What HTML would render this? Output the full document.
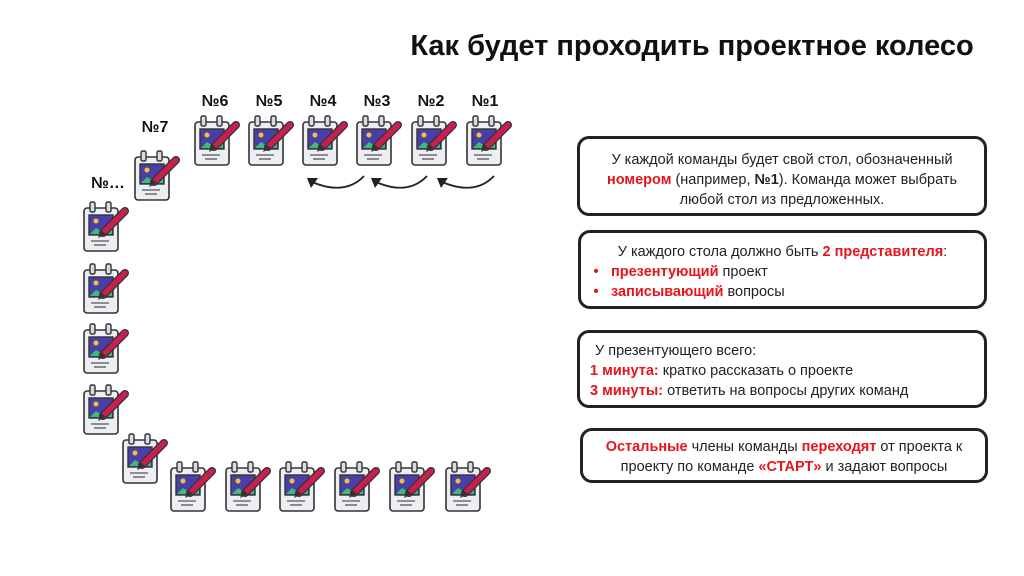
<!DOCTYPE html>
<html><head><meta charset="utf-8"><style>
body{margin:0;width:1024px;height:576px;background:#fff;position:relative;overflow:hidden;font-family:"Liberation Sans",sans-serif}
.t{position:absolute;left:392px;width:600px;top:30px;text-align:center;font-weight:bold;font-size:29px;color:#111}
.l{position:absolute;font-weight:bold;font-size:16px;color:#111;transform:translateX(-50%)}
.b{position:absolute;border:3px solid #222;border-radius:12px;box-sizing:border-box;font-size:14.5px;color:#222;line-height:20px;white-space:nowrap}
.r{color:#e8141b;font-weight:bold}
</style></head><body>
<div class="t">Как будет проходить проектное колесо</div>
<svg width="0" height="0" style="position:absolute"><defs>
<g id="i">
<rect x="3" y="7" width="34" height="43" rx="3" fill="#eceef4" stroke="#333" stroke-width="1.6"/>
<rect x="9" y="1" width="5" height="10" rx="1.5" fill="#d8dce4" stroke="#333" stroke-width="1.4"/>
<rect x="25" y="1" width="5" height="10" rx="1.5" fill="#d8dce4" stroke="#333" stroke-width="1.4"/>
<rect x="8" y="14" width="24" height="20" fill="#4a3fa8" stroke="#333" stroke-width="1.4"/>
<circle cx="15" cy="20" r="2.5" fill="#f4c430"/>
<path d="M9 33 L15 27 L20 30 L26 25 L31 29 L31 33Z" fill="#3dbb7a"/>
<line x1="10" y1="40" x2="28" y2="40" stroke="#555" stroke-width="1.3"/>
<line x1="13" y1="44" x2="25" y2="44" stroke="#555" stroke-width="1.3"/>
<line x1="22" y1="32" x2="44" y2="10" stroke="#333" stroke-width="8" stroke-linecap="round"/>
<line x1="22" y1="32" x2="44" y2="10" stroke="#c8204e" stroke-width="5.5" stroke-linecap="round"/>
<path d="M17 37 L20 29 L25 33Z" fill="#333"/>
</g></defs></svg>
<div class="l" style="left:215px;top:93px">№6</div>
<div class="l" style="left:269px;top:93px">№5</div>
<div class="l" style="left:323px;top:93px">№4</div>
<div class="l" style="left:377px;top:93px">№3</div>
<div class="l" style="left:431px;top:93px">№2</div>
<div class="l" style="left:485px;top:93px">№1</div>
<div class="l" style="left:155px;top:119px">№7</div>
<div class="l" style="left:108px;top:175px">№…</div>
<svg width="1024" height="576" style="position:absolute;left:0;top:0">
<use href="#i" x="192" y="115"/><use href="#i" x="246" y="115"/><use href="#i" x="300" y="115"/>
<use href="#i" x="354" y="115"/><use href="#i" x="409" y="115"/><use href="#i" x="464" y="115"/>
<use href="#i" x="132" y="150"/><use href="#i" x="81" y="201"/>
<use href="#i" x="81" y="263"/><use href="#i" x="81" y="323"/><use href="#i" x="81" y="384"/>
<use href="#i" x="120" y="433"/>
<use href="#i" x="168" y="461"/><use href="#i" x="223" y="461"/><use href="#i" x="277" y="461"/>
<use href="#i" x="332" y="461"/><use href="#i" x="387" y="461"/><use href="#i" x="443" y="461"/>
<g fill="none" stroke="#222" stroke-width="1.8">
<path d="M364 176 Q345 196 312 182"/><path d="M427 176 Q408 196 376 182"/><path d="M494 176 Q475 196 442 182"/>
</g>
<g fill="#222"><path d="M307 178 L318 178 L311 188Z"/><path d="M371 178 L382 178 L375 188Z"/><path d="M437 178 L448 178 L441 188Z"/></g>
</svg>
<div class="b" style="left:577px;top:136px;width:410px;height:80px;text-align:center;padding-top:11px">У каждой команды будет свой стол, обозначенный<br><span class="r">номером</span> (например, <b>№1</b>). Команда может выбрать<br>любой стол из предложенных.</div>
<div class="b" style="left:578px;top:230px;width:409px;height:79px;padding-top:9px">
<div style="text-align:center">У каждого стола должно быть <span class="r">2 представителя</span>:</div>
<div><span class="r" style="display:inline-block;width:30px;text-align:center">•</span><span class="r">презентующий</span> проект</div>
<div><span class="r" style="display:inline-block;width:30px;text-align:center">•</span><span class="r">записывающий</span> вопросы</div></div>
<div class="b" style="left:577px;top:330px;width:410px;height:78px;padding:8px 0 0 10px">
<div style="padding-left:5px">У презентующего всего:</div>
<div><span class="r">1 минута:</span> кратко рассказать о проекте</div>
<div><span class="r">3 минуты:</span> ответить на вопросы других команд</div></div>
<div class="b" style="left:580px;top:428px;width:408px;height:55px;text-align:center;padding-top:6px"><span class="r">Остальные</span> члены команды <span class="r">переходят</span> от проекта к<br>проекту по команде <span class="r">«СТАРТ»</span> и задают вопросы</div>
</body></html>
